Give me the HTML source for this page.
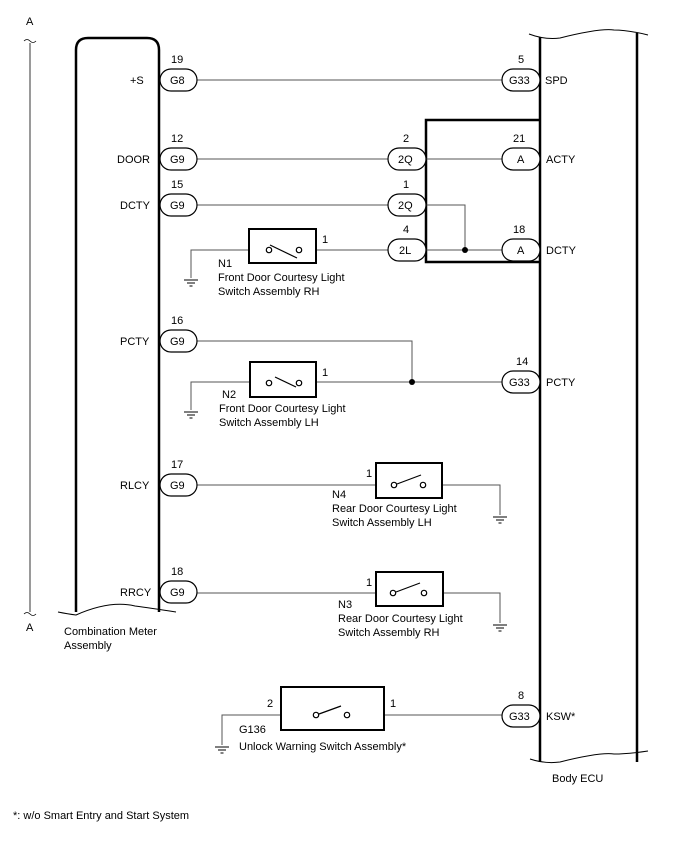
<!DOCTYPE html>
<html><head><meta charset="utf-8"><style>
html,body{margin:0;padding:0;background:#fff}
svg{display:block}
text{font-family:"Liberation Sans",sans-serif;font-size:11px;fill:#000}
</style></head><body>
<svg width="688" height="852" viewBox="0 0 688 852">
<defs>
<g id="gnd"><line x1="-7" y1="0" x2="7" y2="0" stroke="#000" stroke-width="1"/><line x1="-4" y1="3" x2="4" y2="3" stroke="#000" stroke-width="1"/><line x1="-1.5" y1="6" x2="1.5" y2="6" stroke="#000" stroke-width="1"/></g>
</defs>
<g fill="none" stroke="#000">
<line x1="30" y1="43" x2="30" y2="612" stroke-width="0.8"/>
<path d="M24 41 q3 -3 6 0 q3 3 6 0" stroke-width="0.8"/>
<path d="M24 614 q3 -3 6 0 q3 3 6 0" stroke-width="0.8"/>
<path d="M76 612 V50 Q76 38 88 38 H147 Q159 38 159 50 V612" stroke-width="2.5"/>
<path d="M58 612 Q68 614 76 615 Q110 600 135 606 Q150 608 176 612" stroke-width="1"/>
<line x1="540" y1="37" x2="540" y2="762" stroke-width="2.5"/>
<line x1="637" y1="33" x2="637" y2="762" stroke-width="2.5"/>
<path d="M529 34 Q545 40 560 38 Q600 28 614 30 Q628 30 648 35" stroke-width="1"/>
<path d="M530 759 Q545 764 560 762 Q600 752 614 754 Q628 754 648 751" stroke-width="1"/>
<path d="M540 120 H426 V262 H540" stroke-width="2.5"/>
<g stroke="#555" stroke-width="1">
<line x1="197" y1="80" x2="502" y2="80"/>
<line x1="197" y1="159" x2="388" y2="159"/>
<line x1="426" y1="159" x2="502" y2="159"/>
<line x1="197" y1="205" x2="388" y2="205"/>
<path d="M426 205 H465 V250"/>
<line x1="426" y1="250" x2="502" y2="250"/>
<path d="M191 278 V250 H388"/>
<path d="M197 341 H412 V382"/>
<path d="M191 410 V382 H502"/>
<path d="M197 485 H500 V515"/>
<path d="M197 593 H500 V623"/>
<path d="M222 745 V715 H502"/>
</g>
<g stroke-width="1.2" fill="#fff">
<rect x="160" y="69" width="37" height="22" rx="11"/>
<rect x="160" y="148" width="37" height="22" rx="11"/>
<rect x="160" y="194" width="37" height="22" rx="11"/>
<rect x="160" y="330" width="37" height="22" rx="11"/>
<rect x="160" y="474" width="37" height="22" rx="11"/>
<rect x="160" y="581" width="37" height="22" rx="11"/>
<rect x="502" y="69" width="38" height="22" rx="11"/>
<rect x="388" y="148" width="38" height="22" rx="11"/>
<rect x="388" y="194" width="38" height="22" rx="11"/>
<rect x="388" y="239" width="38" height="22" rx="11"/>
<rect x="502" y="148" width="38" height="22" rx="11"/>
<rect x="502" y="239" width="38" height="22" rx="11"/>
<rect x="502" y="371" width="38" height="22" rx="11"/>
<rect x="502" y="705" width="38" height="22" rx="11"/>
</g>
<g stroke-width="2" fill="#fff">
<rect x="249" y="229" width="67" height="34"/>
<rect x="250" y="362" width="66" height="35"/>
<rect x="376" y="463" width="66" height="35"/>
<rect x="376" y="572" width="67" height="34"/>
<rect x="281" y="687" width="103" height="43"/>
</g>
<g stroke="#000" stroke-width="1.2">
<line x1="270" y1="245" x2="297" y2="258"/><circle cx="269" cy="250" r="2.7" fill="#fff"/><circle cx="299" cy="250" r="2.7" fill="#fff"/>
<line x1="275" y1="377" x2="296" y2="387"/><circle cx="269" cy="383" r="2.7" fill="#fff"/><circle cx="299" cy="383" r="2.7" fill="#fff"/>
<line x1="397" y1="484" x2="421" y2="475"/><circle cx="394" cy="485" r="2.7" fill="#fff"/><circle cx="423" cy="485" r="2.7" fill="#fff"/>
<line x1="396" y1="592" x2="420" y2="583"/><circle cx="393" cy="593" r="2.7" fill="#fff"/><circle cx="424" cy="593" r="2.7" fill="#fff"/>
<line x1="319" y1="714" x2="341" y2="706"/><circle cx="316" cy="715" r="2.7" fill="#fff"/><circle cx="347" cy="715" r="2.7" fill="#fff"/>
</g>
</g>
<circle cx="465" cy="250" r="3" fill="#000"/>
<circle cx="412" cy="382" r="3" fill="#000"/>
<use href="#gnd" x="191" y="280"/>
<use href="#gnd" x="191" y="412"/>
<use href="#gnd" x="500" y="517"/>
<use href="#gnd" x="500" y="625"/>
<use href="#gnd" x="222" y="747"/>
<text x="26" y="25">A</text>
<text x="26" y="631">A</text>
<text x="171" y="63">19</text><text x="130" y="84">+S</text><text x="170" y="84">G8</text>
<text x="171" y="142">12</text><text x="117" y="163">DOOR</text><text x="170" y="163">G9</text>
<text x="171" y="188">15</text><text x="120" y="209">DCTY</text><text x="170" y="209">G9</text>
<text x="171" y="324">16</text><text x="120" y="345">PCTY</text><text x="170" y="345">G9</text>
<text x="171" y="468">17</text><text x="120" y="489">RLCY</text><text x="170" y="489">G9</text>
<text x="171" y="575">18</text><text x="120" y="596">RRCY</text><text x="170" y="596">G9</text>
<text x="518" y="63">5</text><text x="509" y="84">G33</text><text x="545" y="84">SPD</text>
<text x="403" y="142">2</text><text x="398" y="163">2Q</text>
<text x="403" y="188">1</text><text x="398" y="209">2Q</text>
<text x="403" y="233">4</text><text x="399" y="254">2L</text>
<text x="513" y="142">21</text><text x="517" y="163">A</text><text x="546" y="163">ACTY</text>
<text x="513" y="233">18</text><text x="517" y="254">A</text><text x="546" y="254">DCTY</text>
<text x="516" y="365">14</text><text x="509" y="386">G33</text><text x="546" y="386">PCTY</text>
<text x="518" y="699">8</text><text x="509" y="720">G33</text><text x="546" y="720">KSW*</text>
<text x="322" y="243">1</text><text x="218" y="267">N1</text>
<text x="218" y="281">Front Door Courtesy Light</text><text x="218" y="295">Switch Assembly RH</text>
<text x="322" y="376">1</text><text x="222" y="398">N2</text>
<text x="219" y="412">Front Door Courtesy Light</text><text x="219" y="426">Switch Assembly LH</text>
<text x="366" y="477">1</text><text x="332" y="498">N4</text>
<text x="332" y="512">Rear Door Courtesy Light</text><text x="332" y="526">Switch Assembly LH</text>
<text x="366" y="586">1</text><text x="338" y="608">N3</text>
<text x="338" y="622">Rear Door Courtesy Light</text><text x="338" y="636">Switch Assembly RH</text>
<text x="267" y="707">2</text><text x="390" y="707">1</text>
<text x="239" y="733">G136</text><text x="239" y="750">Unlock Warning Switch Assembly*</text>
<text x="64" y="635">Combination Meter</text><text x="64" y="649">Assembly</text>
<text x="552" y="782">Body ECU</text>
<text x="13" y="819">*: w/o Smart Entry and Start System</text>
</svg>
</body></html>
